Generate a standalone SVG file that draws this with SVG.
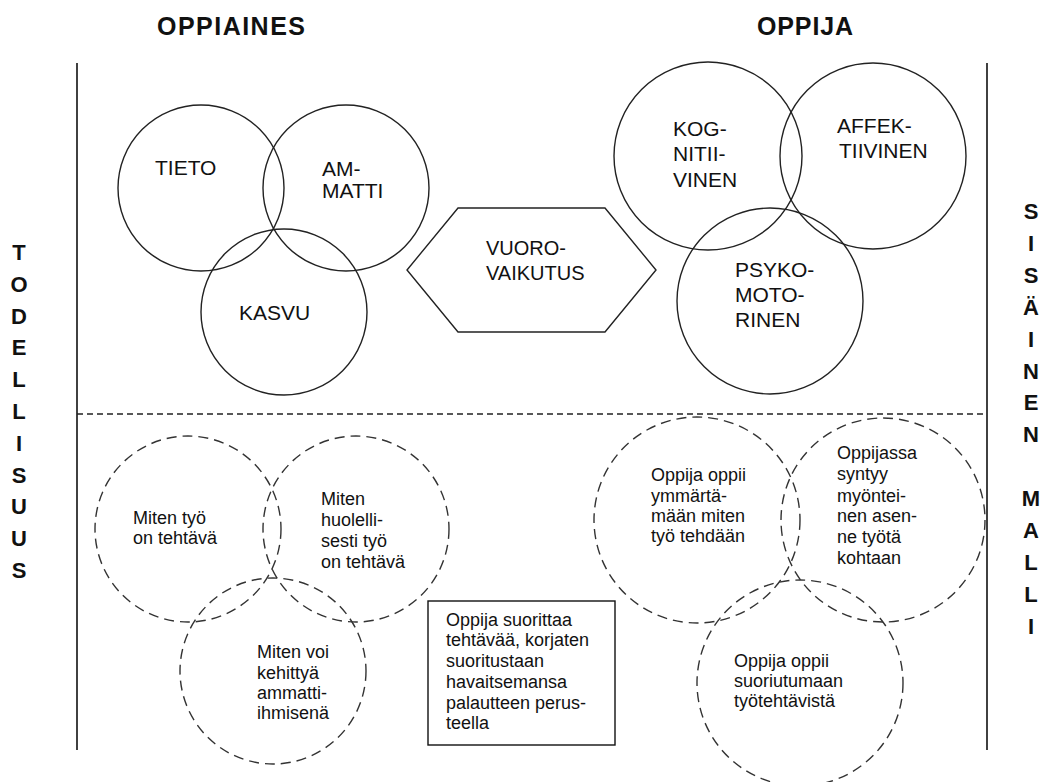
<svg xmlns="http://www.w3.org/2000/svg" width="1048" height="782" viewBox="0 0 1048 782">
  <style>
    text { font-family: "Liberation Sans", Arial, sans-serif; fill: #111; }
    .head { font-size: 25px; font-weight: bold; }
    .side { font-size: 22px; font-weight: bold; text-anchor: middle; }
    .big { font-size: 21px; }
    .small { font-size: 18px; }
    .solid { fill: none; stroke: #222; stroke-width: 1.4; }
    .dashed { fill: none; stroke: #333; stroke-width: 1.4; stroke-dasharray: 10 6; }
    .frame { stroke: #111; stroke-width: 1.6; fill: none; }
    .divider { stroke: #222; stroke-width: 1.3; stroke-dasharray: 6 4; fill: none; }
  </style>

  <!-- column headings -->
  <text class="head" x="157" y="35" textLength="148" lengthAdjust="spacing">OPPIAINES</text>
  <text class="head" x="757" y="35" textLength="96" lengthAdjust="spacing">OPPIJA</text>

  <!-- side labels, one letter per line -->
  <text class="side">
    <tspan x="19" y="260">T</tspan><tspan x="19" y="291.8">O</tspan><tspan x="19" y="323.6">D</tspan><tspan x="19" y="355.4">E</tspan><tspan x="19" y="387.2">L</tspan><tspan x="19" y="419">L</tspan><tspan x="19" y="450.8">I</tspan><tspan x="19" y="482.6">S</tspan><tspan x="19" y="514.4">U</tspan><tspan x="19" y="546.2">U</tspan><tspan x="19" y="578">S</tspan>
  </text>
  <text class="side">
    <tspan x="1031" y="219">S</tspan><tspan x="1031" y="250.9">I</tspan><tspan x="1031" y="282.8">S</tspan><tspan x="1031" y="314.7">Ä</tspan><tspan x="1031" y="346.6">I</tspan><tspan x="1031" y="378.5">N</tspan><tspan x="1031" y="410.4">E</tspan><tspan x="1031" y="442.3">N</tspan><tspan x="1031" y="506.1">M</tspan><tspan x="1031" y="538">A</tspan><tspan x="1031" y="569.9">L</tspan><tspan x="1031" y="601.8">L</tspan><tspan x="1031" y="633.7">I</tspan>
  </text>

  <!-- frame lines and the dashed divider -->
  <g id="connectors">
    <line class="frame" x1="77" y1="63" x2="77" y2="750"/>
    <line class="frame" x1="987" y1="63" x2="987" y2="750"/>
    <line class="divider" x1="77" y1="414" x2="987" y2="414"/>
  </g>

  <!-- upper left: subject areas -->
  <g id="tieto">
    <circle class="solid" cx="201" cy="188" r="83"/>
    <text class="big" x="155" y="175">TIETO</text>
  </g>
  <g id="ammatti">
    <circle class="solid" cx="346" cy="188" r="83"/>
    <text class="big"><tspan x="322" y="176">AM-</tspan><tspan x="322" y="198">MATTI</tspan></text>
  </g>
  <g id="kasvu">
    <circle class="solid" cx="284" cy="312" r="83"/>
    <text class="big" x="239" y="320">KASVU</text>
  </g>

  <!-- interaction between the columns -->
  <g id="vuorovaikutus">
    <polygon class="solid" points="458,208 605,208 656,270 605,332 458,332 407,270"/>
    <text class="big" style="font-size:20px"><tspan x="486" y="255">VUORO-</tspan><tspan x="486" y="280">VAIKUTUS</tspan></text>
  </g>

  <!-- upper right: learner domains -->
  <g id="kognitiivinen">
    <circle class="solid" cx="708" cy="156" r="94"/>
    <text class="big"><tspan x="673" y="136">KOG-</tspan><tspan x="673" y="161">NITII-</tspan><tspan x="673" y="187">VINEN</tspan></text>
  </g>
  <g id="affektiivinen">
    <circle class="solid" cx="873" cy="156" r="93"/>
    <text class="big"><tspan x="837" y="133">AFFEK-</tspan><tspan x="839" y="158">TIIVINEN</tspan></text>
  </g>
  <g id="psykomotorinen">
    <circle class="solid" cx="770" cy="301" r="93"/>
    <text class="big"><tspan x="735" y="277">PSYKO-</tspan><tspan x="735" y="302">MOTO-</tspan><tspan x="735" y="327">RINEN</tspan></text>
  </g>

  <!-- lower left -->
  <g id="miten-tyo">
    <circle class="dashed" cx="188" cy="529" r="93"/>
    <text class="small"><tspan x="133" y="524">Miten työ</tspan><tspan x="133" y="544">on tehtävä</tspan></text>
  </g>
  <g id="miten-huolellisesti">
    <circle class="dashed" cx="356" cy="529" r="93"/>
    <text class="small"><tspan x="321" y="505">Miten</tspan><tspan x="321" y="526">huolelli-</tspan><tspan x="321" y="547">sesti työ</tspan><tspan x="321" y="568">on tehtävä</tspan></text>
  </g>
  <g id="miten-kehittya">
    <circle class="dashed" cx="273" cy="671" r="93"/>
    <text class="small"><tspan x="257" y="658">Miten voi</tspan><tspan x="257" y="679">kehittyä</tspan><tspan x="257" y="699">ammatti-</tspan><tspan x="257" y="719">ihmisenä</tspan></text>
  </g>

  <!-- centre box -->
  <g id="palaute">
    <rect class="frame" x="428" y="601" width="187" height="144" style="stroke-width:1.4"/>
    <text class="small"><tspan x="446" y="626">Oppija suorittaa</tspan><tspan x="446" y="646">tehtävää, korjaten</tspan><tspan x="446" y="667">suoritustaan</tspan><tspan x="446" y="688">havaitsemansa</tspan><tspan x="446" y="709">palautteen perus-</tspan><tspan x="446" y="729">teella</tspan></text>
  </g>

  <!-- lower right -->
  <g id="ymmartaa">
    <circle class="dashed" cx="697" cy="520" r="103"/>
    <text class="small"><tspan x="651" y="481">Oppija oppii</tspan><tspan x="651" y="502">ymmärtä-</tspan><tspan x="651" y="522">mään miten</tspan><tspan x="651" y="542">työ tehdään</tspan></text>
  </g>
  <g id="asenne">
    <circle class="dashed" cx="883" cy="520" r="102"/>
    <text class="small"><tspan x="837" y="459">Oppijassa</tspan><tspan x="837" y="480">syntyy</tspan><tspan x="837" y="502">myöntei-</tspan><tspan x="837" y="522">nen asen-</tspan><tspan x="837" y="543">ne työtä</tspan><tspan x="837" y="564">kohtaan</tspan></text>
  </g>
  <g id="suoriutuminen">
    <circle class="dashed" cx="800" cy="683" r="103"/>
    <text class="small"><tspan x="734" y="667">Oppija oppii</tspan><tspan x="734" y="687">suoriutumaan</tspan><tspan x="734" y="707">työtehtävistä</tspan></text>
  </g>
</svg>
